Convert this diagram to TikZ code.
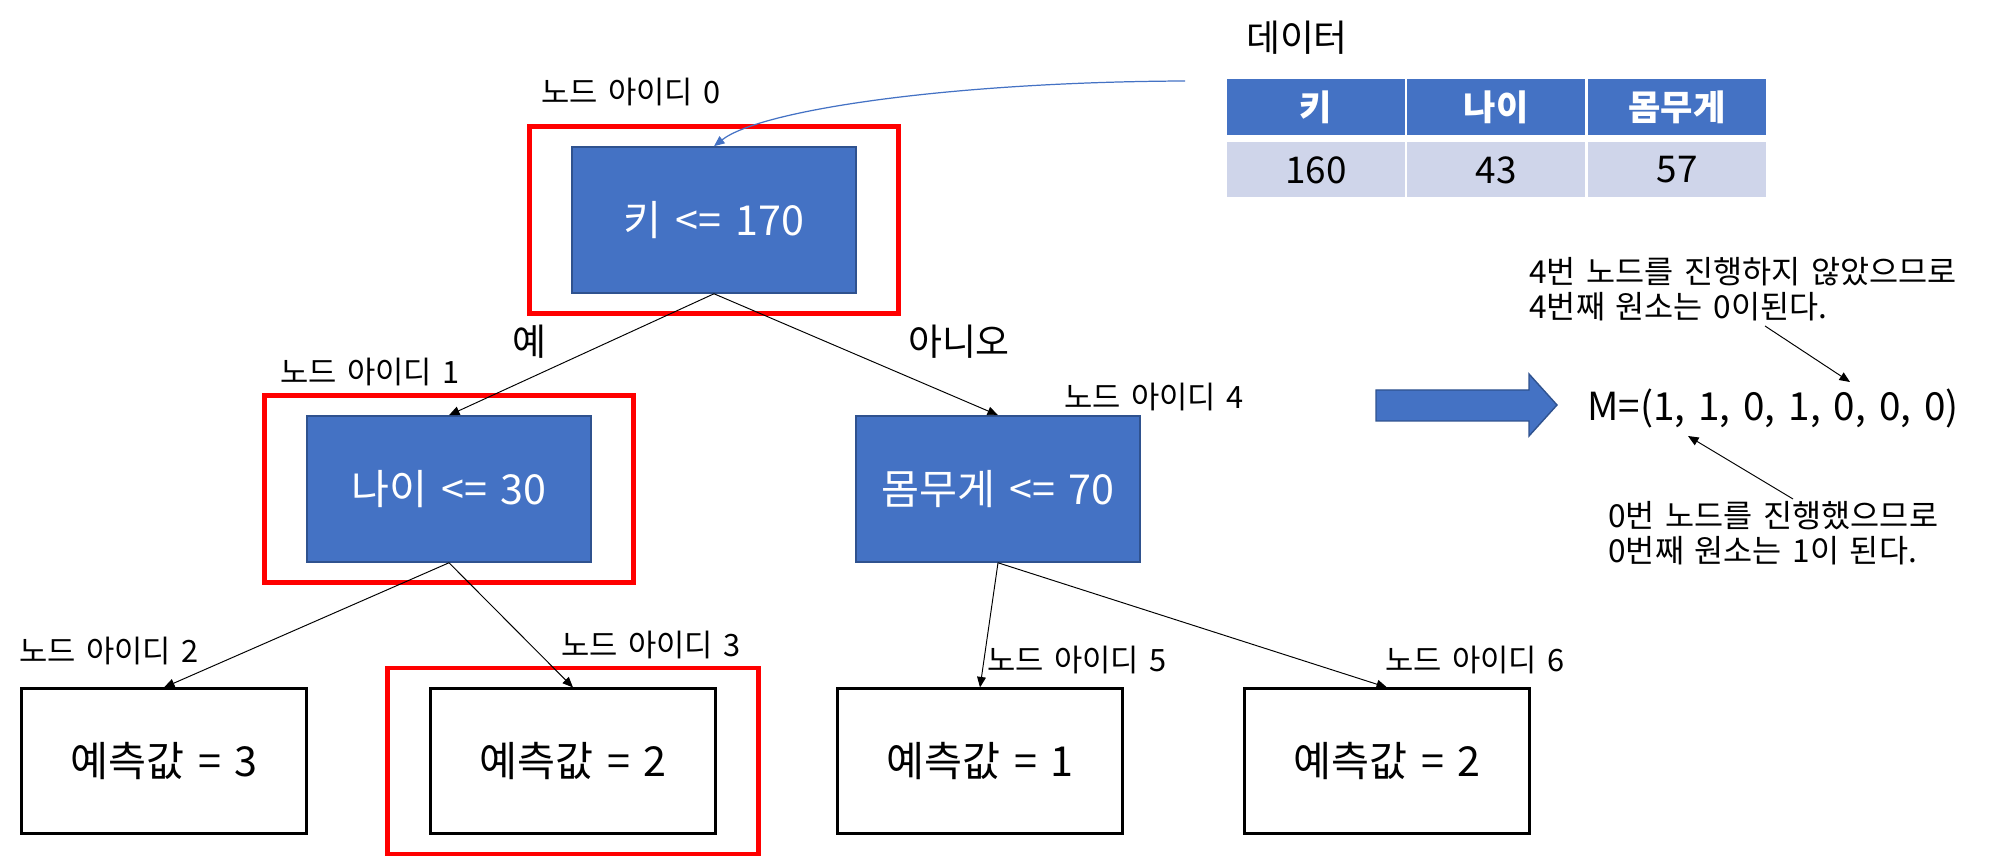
\documentclass[tikz,border=0pt]{standalone}
\usepackage{fontspec}
\setmainfont{Noto Sans CJK KR}[WordSpace=1.5]
\usepackage{tikz}
\usetikzlibrary{arrows.meta,positioning,fit}
\definecolor{nodeblue}{HTML}{4472C4}
\definecolor{nodeedge}{HTML}{2F528F}
\definecolor{cellgray}{HTML}{CFD5EA}
\definecolor{pathred}{HTML}{FF0000}
\tikzset{
  splitnd/.style={draw=nodeedge,fill=nodeblue,text=white,line width=0.9pt,
    minimum width=5.68cm,minimum height=2.92cm,font=\fontsize{23.5}{28}\selectfont},
  leafnd/.style={draw=black,fill=white,line width=1.2pt,
    minimum width=5.7cm,minimum height=2.9cm,font=\fontsize{23.5}{28}\selectfont},
  pathbox/.style={draw=pathred,line width=2.6pt,inner xsep=0.84cm,inner ysep=0.39cm},
  idlab/.style={anchor=west,inner sep=0pt,font=\fontsize{17.5}{20}\selectfont},
  brlab/.style={inner sep=0pt,font=\fontsize{21}{25}\selectfont},
  edge/.style={-{Triangle[length=6pt,width=5pt]},line width=0.55pt},
  dataarr/.style={-{Triangle[length=6pt,width=5pt]},nodeblue,line width=0.7pt},
  thead/.style={fill=nodeblue,text=white,inner sep=0pt,minimum width=3.56cm,
    minimum height=1.12cm,font=\bfseries\fontsize{20}{24}\selectfont},
  tcell/.style={fill=cellgray,inner sep=0pt,minimum width=3.56cm,
    minimum height=1.1cm,font=\fontsize{21}{25}\selectfont},
  note/.style={anchor=west,align=left,inner sep=0pt,font=\fontsize{18}{20}\selectfont},
  bigarr/.style={fill=nodeblue,draw=nodeedge,line width=0.8pt},
}
\begin{document}
\begin{tikzpicture}[x=0.02cm,y=-0.02cm]
  \useasboundingbox (0,0) rectangle (1998,857);
  % tree nodes
  \node[splitnd] (n0) at (714,220) {키 <= 170};
  \node[splitnd] (n1) at (449,489) {나이 <= 30};
  \node[splitnd] (n4) at (998,489) {몸무게 <= 70};
  \node[leafnd] (n2) at (164,761) {예측값 = 3};
  \node[leafnd] (n3) at (573,761) {예측값 = 2};
  \node[leafnd] (n5) at (980,761) {예측값 = 1};
  \node[leafnd] (n6) at (1387,761) {예측값 = 2};
  % visited path
  \foreach \v in {n0,n1,n3}{%
    \node[pathbox,fit=(\v)] (red\v) {};}
  % node ids
  \foreach \k/\px/\py in {0/541/92,1/280/372,4/1064/397,2/19/651,3/561/645,5/987/660,6/1385/660}{%
    \node[idlab] (id\k) at (\px,\py) {노드 아이디 \k};}
  % branches
  \foreach \a/\b in {n0/n1,n0/n4,n1/n2,n1/n3,n4/n5,n4/n6}{%
    \draw[edge] (\a.south) -- (\b.north);}
  \node[brlab] (yes) at (529,342) {예};
  \node[brlab] (no) at (959,342) {아니오};
  % data table
  \node[inner sep=0pt,font=\fontsize{21}{25}\selectfont] (dtitle) at (1297,38) {데이터};
  \foreach \i/\hd/\val/\cx in {1/키/160/1316,2/나이/43/1496,3/몸무게/57/1677}{%
    \node[thead] (h\i) at (\cx,107) {\hd};
    \node[tcell] (v\i) at (\cx,170) {\val};}
  \coordinate (dsrc) at (1185,81);
  \draw[dataarr] (dsrc) .. controls (950,82) and (760,110) .. (n0.north);
  % result vector
  \draw[bigarr] (1376,390) -- (1529,390) -- (1529,374) -- (1557,405)
    -- (1529,436) -- (1529,421) -- (1376,421) -- cycle;
  \node[inner sep=0pt,font=\fontsize{22}{26}\selectfont] (vecm) at (1773,408) {M=(1, 1, 0, 1, 0, 0, 0)};
  \node[note] (note4) at (1529,289) {4번 노드를 진행하지 않았으므로\\4번째 원소는 0이된다.};
  \node[note] (note0) at (1608,533) {0번 노드를 진행했으므로\\0번째 원소는 1이 된다.};
  \coordinate (t4a) at (1765,326);
  \coordinate (t4b) at (1850,382);
  \coordinate (t0a) at (1793,499);
  \coordinate (t0b) at (1688,436);
  \draw[edge] (t4a) -- (t4b);
  \draw[edge] (t0a) -- (t0b);
\end{tikzpicture}
\end{document}
